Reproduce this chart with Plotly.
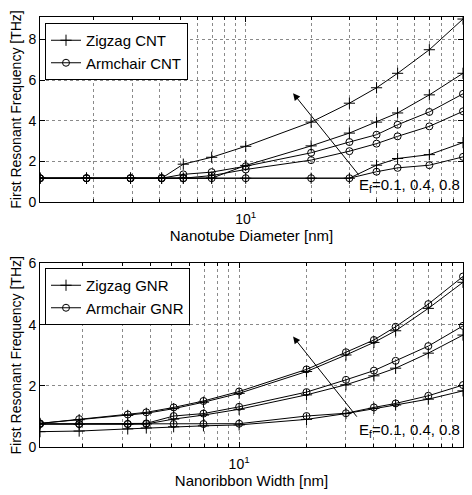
import plotly.graph_objects as go
import math

# ---------------- data ----------------
cnt_diameter = [1.13, 1.85, 2.95, 4.1, 5.16, 6.97, 10, 20, 30, 40, 50, 70, 100]
cnt_zigzag_ef01 = [1.17, 1.17, 1.17, 1.17, 1.17, 1.17, 1.17, 1.17, 1.17, 1.81, 2.14, 2.33, 2.92]
cnt_zigzag_ef04 = [1.17, 1.17, 1.17, 1.17, 1.17, 1.17, 1.80, 2.76, 3.39, 3.93, 4.38, 5.27, 6.33]
cnt_zigzag_ef08 = [1.17, 1.17, 1.17, 1.17, 1.86, 2.20, 2.74, 3.93, 4.86, 5.62, 6.33, 7.49, 9.00]
cnt_armchair_ef01 = [1.17, 1.17, 1.17, 1.17, 1.17, 1.17, 1.17, 1.17, 1.17, 1.49, 1.68, 1.81, 2.22]
cnt_armchair_ef04 = [1.17, 1.17, 1.17, 1.17, 1.17, 1.30, 1.60, 2.06, 2.50, 2.87, 3.23, 3.72, 4.46]
cnt_armchair_ef08 = [1.17, 1.17, 1.17, 1.17, 1.36, 1.47, 1.76, 2.42, 2.95, 3.31, 3.80, 4.43, 5.32]

gnr_width = [1.29, 1.93, 3.18, 3.85, 5.1, 6.93, 10, 20, 30, 40, 50, 70, 100]
gnr_zigzag_ef01 = [0.51, 0.53, 0.60, 0.63, 0.67, 0.70, 0.73, 0.91, 1.10, 1.27, 1.38, 1.57, 1.84]
gnr_zigzag_ef04 = [0.76, 0.75, 0.75, 0.76, 0.92, 1.05, 1.24, 1.71, 2.04, 2.33, 2.58, 3.07, 3.66]
gnr_zigzag_ef08 = [0.78, 0.90, 1.04, 1.11, 1.26, 1.47, 1.76, 2.47, 3.01, 3.42, 3.80, 4.53, 5.38]
gnr_armchair_ef01 = [0.76, 0.76, 0.76, 0.76, 0.76, 0.76, 0.77, 1.02, 1.11, 1.30, 1.43, 1.68, 2.03]
gnr_armchair_ef04 = [0.76, 0.76, 0.76, 0.78, 1.02, 1.10, 1.32, 1.80, 2.20, 2.50, 2.82, 3.30, 3.96]
gnr_armchair_ef08 = [0.78, 0.92, 1.07, 1.14, 1.30, 1.51, 1.82, 2.54, 3.10, 3.50, 3.93, 4.67, 5.57]

x_major_ticks = [10, 100]
x_major_text = ["10<sup>1</sup>", "10<sup>2</sup>"]
x_minor_ticks = [2, 3, 4, 5, 6, 7, 8, 9, 20, 30, 40, 50, 60, 70, 80, 90]
top_y_ticks = [0, 2, 4, 6, 8]
bot_y_ticks = [0, 2, 4, 6]
ef_label = "E<sub>f</sub>=0.1, 0.4, 0.8"

# ---------------- figure ----------------
# page body has an 8px margin: figure drawn at (8,8) inside the 472x495 window
OFF = 8
W, H = 472 - OFF, 495 - OFF
FONT = "Liberation Sans, Arial, Helvetica, sans-serif"
fig = go.Figure()

def px_x(p):
    return (p - OFF) / W

def px_y(p):
    return 1 - (p - OFF) / H

zz_marker = dict(symbol="cross-thin", size=8, color="black", line=dict(color="black", width=1))
ac_marker = dict(symbol="circle-open", size=7, color="black", line=dict(color="black", width=1))

def add(x, y, marker, name, show, xa, ya, leg):
    fig.add_trace(go.Scatter(
        x=x, y=y, mode="lines+markers", name=name, showlegend=show,
        line=dict(color="black", width=1), marker=marker,
        xaxis=xa, yaxis=ya, legend=leg))

for i, y in enumerate([cnt_zigzag_ef01, cnt_zigzag_ef04, cnt_zigzag_ef08]):
    add(cnt_diameter, y, zz_marker, "Zigzag CNT", i == 0, "x", "y", "legend")
for i, y in enumerate([cnt_armchair_ef01, cnt_armchair_ef04, cnt_armchair_ef08]):
    add(cnt_diameter, y, ac_marker, "Armchair CNT", i == 0, "x", "y", "legend")
for i, y in enumerate([gnr_zigzag_ef01, gnr_zigzag_ef04, gnr_zigzag_ef08]):
    add(gnr_width, y, zz_marker, "Zigzag GNR", i == 0, "x2", "y2", "legend2")
for i, y in enumerate([gnr_armchair_ef01, gnr_armchair_ef04, gnr_armchair_ef08]):
    add(gnr_width, y, ac_marker, "Armchair GNR", i == 0, "x2", "y2", "legend2")

GRIDC = "#8a8a8a"
grid = dict(showgrid=True, gridcolor=GRIDC, gridwidth=0.6, griddash="dot")
common = dict(showline=True, linecolor="black", linewidth=1, mirror="allticks",
              ticks="inside", ticklen=5, tickcolor="black", tickwidth=1,
              zeroline=False, automargin=False,
              tickfont=dict(family=FONT, size=14, color="black"), **grid)

xdom = [px_x(40), px_x(463)]

def xaxis_cfg(xmin, title, anchor):
    return dict(type="log", domain=xdom, anchor=anchor,
                range=[math.log10(xmin), 2],
                tickmode="array", tickvals=x_major_ticks, ticktext=x_major_text,
                ticklabelstandoff=4,
                minor=dict(tickmode="array", tickvals=x_minor_ticks, ticks="inside", ticklen=3,
                           tickcolor="black", showgrid=True, gridcolor=GRIDC,
                           gridwidth=0.6, griddash="dot"),
                title=dict(text=title, font=dict(family=FONT, size=15, color="black"), standoff=4),
                **common)

def yaxis_cfg(dom, rng, ticks, anchor):
    return dict(domain=dom, anchor=anchor, range=rng, tickmode="array", tickvals=ticks,
                title=dict(text="First Resonant Frequency [THz]",
                           font=dict(family=FONT, size=14, color="black"), standoff=7),
                **common)

legend_common = dict(bgcolor="white", bordercolor="black", borderwidth=1,
                     font=dict(family=FONT, size=15, color="black"),
                     xanchor="left", yanchor="top", itemwidth=30, tracegroupgap=0)

fig.update_layout(
    width=W, height=H, margin=dict(l=0, r=0, t=0, b=0),
    paper_bgcolor="white", plot_bgcolor="white",
    font=dict(family=FONT, size=14, color="black"),
    xaxis=xaxis_cfg(cnt_diameter[0], "Nanotube Diameter [nm]", "y"),
    yaxis=yaxis_cfg([px_y(202), px_y(17)], [0, 9.1], top_y_ticks, "x"),
    xaxis2=xaxis_cfg(gnr_width[0], "Nanoribbon Width [nm]", "y2"),
    yaxis2=yaxis_cfg([px_y(447.3), px_y(263.3)], [0, 6], bot_y_ticks, "x2"),
    legend=dict(x=px_x(45), y=px_y(23), **legend_common),
    legend2=dict(x=px_x(45), y=px_y(268), **legend_common),
    showlegend=True,
)

# arrows & E_f labels (log-axis annotation coordinates are log10 values)
top_arrow_head = (1.218, 5.35)
top_arrow_tail = (1.525, 1.27)
bot_arrow_head = (1.241, 3.61)
bot_arrow_tail = (1.531, 0.95)
for (xr, yr, head, tail, ylab) in [("x", "y", top_arrow_head, top_arrow_tail, 0.83),
                                    ("x2", "y2", bot_arrow_head, bot_arrow_tail, 0.56)]:
    fig.add_annotation(x=head[0], y=head[1], ax=tail[0], ay=tail[1], xref=xr, yref=yr,
                       axref=xr, ayref=yr, text="", showarrow=True, arrowhead=2,
                       arrowsize=1.4, arrowwidth=1, arrowcolor="black")
    fig.add_annotation(x=2, y=ylab, xref=xr, yref=yr, text=ef_label, showarrow=False,
                       xanchor="right", yanchor="middle", xshift=-1,
                       font=dict(family=FONT, size=15, color="black"))

fig.write_html("out.html")
